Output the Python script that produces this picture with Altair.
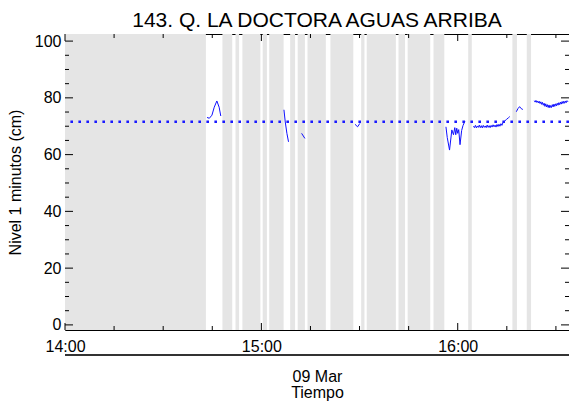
import altair as alt
import pandas as pd

# ---------------- data ----------------
TITLE = "143. Q. LA DOCTORA AGUAS ARRIBA"
Y_TITLE = "Nivel 1 minutos (cm)"
X_TITLE = ["09 Mar", "Tiempo"]
BASE = "2024-03-09T14:00:00Z"
DOMAIN_MIN = [0, 154]          # minutes after 14:00
Y_DOMAIN = [-1.8, 102.5]
THRESHOLD = 71.6

# grey bands (minutes after 14:00)
band_start = [0, 48.1, 52.1, 54.2, 60.4, 62.4, 68.8, 71.1, 74.1, 81.1, 90.5, 92.2,
              101.9, 104.7, 112.6, 123.2, 136.7, 141.1]
band_end = [43.05, 51.1, 53.2, 59.7, 61.7, 66.8, 70.3, 73.3, 79.7, 88.1, 91.5, 101.1,
            103.9, 111.6, 115.9, 124.3, 138.1, 142.4]

# level series, by segment (minutes after 14:00, cm)
seg1_t = [43.4, 44.1, 44.9, 45.6, 46.4, 47.1, 47.6]
seg1_v = [73.1, 72.8, 73.9, 76.7, 78.9, 76.7, 73.6]
seg2_t = [66.9, 67.3, 67.8, 68.3]
seg2_v = [75.8, 71.5, 67.5, 64.5]
seg3_t = [72.3, 73.3]
seg3_v = [67.5, 65.7]
seg4_t = [88.6, 89.4, 90.1]
seg4_v = [70.7, 69.8, 71.0]
seg5_t = [116.4, 116.8, 117.5, 118.2, 118.7, 119.1, 119.4, 119.7, 120.0, 120.3,
          120.7, 121.2, 121.6, 122.2]
seg5_v = [69.8, 66.0, 61.6, 68.7, 67.0, 69.5, 67.0, 69.3, 67.5, 68.8,
          63.5, 68.5, 70.2, 71.8]
seg6_t = [124.8, 125.1, 125.4, 125.7, 126.0, 126.3, 126.6, 126.9, 127.2, 127.5,
          127.8, 128.1, 128.4, 128.7, 129.0, 129.3, 129.6, 129.9, 130.2, 130.5,
          130.8, 131.1, 131.4, 131.7, 132.0, 132.3, 132.6, 132.9, 133.2, 133.5,
          133.8, 134.3, 134.9, 135.5, 135.9]
seg6_v = [70.0, 69.5, 70.3, 69.4, 70.1, 69.6, 70.4, 69.5, 70.2, 69.4,
          70.3, 69.6, 70.1, 69.5, 70.4, 69.6, 70.2, 69.5, 70.3, 69.7,
          70.5, 69.8, 70.4, 69.7, 70.6, 69.9, 70.7, 70.0, 70.9, 70.3,
          71.2, 71.8, 72.4, 73.0, 73.4]
seg7_t = [137.9, 138.4, 138.9, 139.4, 139.9]
seg7_v = [75.1, 76.2, 76.9, 76.2, 75.9]
seg8_t = [143.4, 143.65, 143.9, 144.15, 144.4, 144.65, 144.9, 145.15, 145.4, 145.65,
          145.9, 146.15, 146.4, 146.65, 146.9, 147.15, 147.4, 147.65, 147.9, 148.15,
          148.4, 148.65, 148.9, 149.15, 149.4, 149.65, 149.9, 150.15, 150.4, 150.65,
          150.9, 151.15, 151.4, 151.65, 151.9, 152.15, 152.4, 152.65, 152.9, 153.15,
          153.4, 153.7]
seg8_v = [79.0, 78.5, 79.1, 78.4, 78.9, 78.2, 78.8, 78.0, 78.6, 77.7,
          78.4, 77.4, 78.1, 77.0, 77.9, 76.8, 77.6, 76.6, 77.5, 76.5,
          77.3, 76.6, 77.6, 76.8, 77.8, 77.0, 77.9, 77.2, 78.1, 77.4,
          78.3, 77.6, 78.5, 77.8, 78.7, 78.0, 78.8, 78.1, 78.9, 78.3,
          79.0, 78.6]

x_major = [0, 60, 120]
x_minor = [15, 30, 45, 75, 90, 105, 135, 150]
y_major = [0, 20, 40, 60, 80, 100]
y_minor = [5, 10, 15, 25, 30, 35, 45, 50, 55, 65, 70, 75, 85, 90, 95]

# ---------------- helpers ----------------
base = pd.Timestamp(BASE)


def ts(minutes):
    return [(base + pd.Timedelta(minutes=m)).strftime("%Y-%m-%dT%H:%M:%S.%fZ") for m in minutes]


def ms(minutes):
    return [int((base + pd.Timedelta(minutes=m)).value // 10**6) for m in minutes]


W, H = 504, 296
PAD_L = 57
FONT = "Liberation Sans"

x_scale = alt.Scale(type="utc", domain=ms(DOMAIN_MIN), nice=False)
y_scale = alt.Scale(domain=Y_DOMAIN, nice=False, zero=False)

x_axis = alt.Axis(values=ms(x_major), format="%H:%M", ticks=False, domain=False, grid=False,
                  labelPadding=8, labelFontSize=16, labelColor="black", labelFlush=False,
                  title=X_TITLE, titleFontSize=16, titleFontWeight="normal", titleColor="black",
                  titlePadding=14, titleLineHeight=16)
y_axis = alt.Axis(values=y_major, ticks=False, domain=False, grid=False,
                  labelPadding=4, labelFontSize=16, labelColor="black",
                  title=Y_TITLE, titleFontSize=16, titleFontWeight="normal", titleColor="black",
                  titlePadding=11)

bands_df = pd.DataFrame({"t": ts(band_start), "t2": ts(band_end)})
bands = alt.Chart(bands_df).mark_rect(color="#e5e5e5").encode(
    x=alt.X("t:T", scale=x_scale, axis=x_axis), x2="t2:T")

segs = [(seg1_t, seg1_v), (seg2_t, seg2_v), (seg3_t, seg3_v), (seg4_t, seg4_v),
        (seg5_t, seg5_v), (seg6_t, seg6_v), (seg7_t, seg7_v), (seg8_t, seg8_v)]
rows = []
for i, (tt, vv) in enumerate(segs):
    for t, v, o in zip(ts(tt), vv, range(len(tt))):
        rows.append({"t": t, "v": v, "seg": i, "o": o})
line_df = pd.DataFrame(rows)
lines = alt.Chart(line_df).mark_line(color="#1010ff", strokeWidth=1).encode(
    x=alt.X("t:T", scale=x_scale),
    y=alt.Y("v:Q", scale=y_scale, axis=y_axis),
    detail="seg:N", order="o:Q")

thr = alt.Chart(pd.DataFrame({"v": [THRESHOLD]})).mark_rule(
    color="#1a1aff", strokeWidth=2.6, strokeDash=[2.6, 5.4]).encode(y=alt.Y("v:Q", scale=y_scale))


def xticks(vals, y1, y2):
    return alt.Chart(pd.DataFrame({"t": ts(vals)})).mark_rule(color="black", strokeWidth=1).encode(
        x=alt.X("t:T", scale=x_scale), y=alt.value(y1), y2=alt.value(y2))


def yticks(vals, x1, x2):
    return alt.Chart(pd.DataFrame({"v": vals})).mark_rule(color="black", strokeWidth=1).encode(
        y=alt.Y("v:Q", scale=y_scale), x=alt.value(x1), x2=alt.value(x2))


ticks = [
    xticks(x_major, H, H - 7), xticks(x_major, 0, 7),
    xticks(x_minor, H, H - 4), xticks(x_minor, 0, 4),
    yticks(y_major, 0, 8), yticks(y_major, W - 8, W),
    yticks(y_minor, 0, 4), yticks(y_minor, W - 4, W),
]

sep = alt.Chart(pd.DataFrame({"k": [0]})).mark_rule(color="#333333", strokeWidth=2).encode(
    x=alt.value(0), x2=alt.value(W), y=alt.value(H + 25))

chart = alt.layer(bands, lines, thr, *ticks, sep).properties(
    width=W, height=H,
    title=alt.TitleParams(TITLE, fontSize=21, fontWeight="normal", font=FONT, color="black",
                          anchor="middle", offset=2),
    autosize=alt.AutoSizeParams(type="none"),
    padding={"left": PAD_L, "top": 26, "right": 0, "bottom": 72},
).configure_view(stroke="black", strokeWidth=1).configure_axis(
    labelFont=FONT, titleFont=FONT
)

chart.save("out.html", embed_options={"renderer": "svg", "actions": False})
